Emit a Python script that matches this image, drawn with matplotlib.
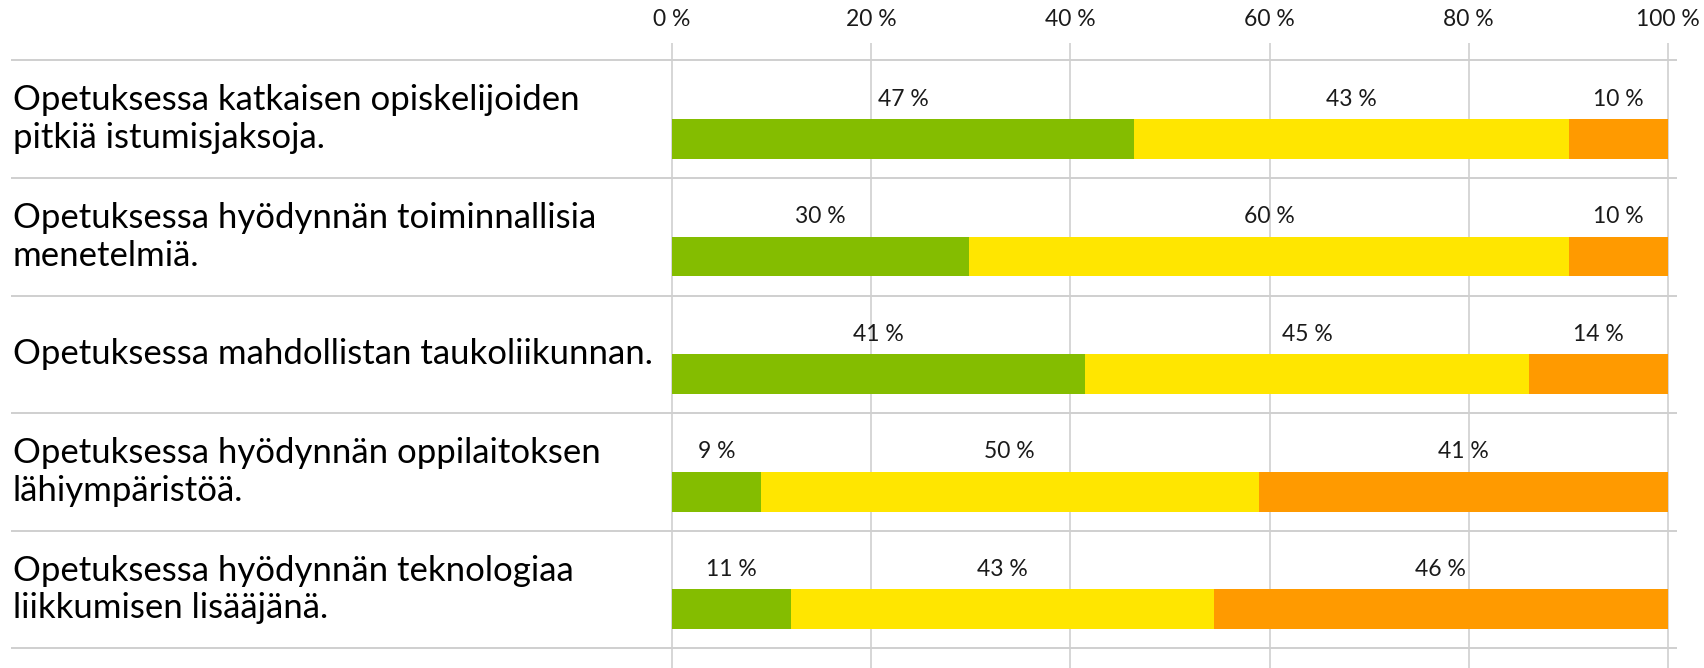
import matplotlib
matplotlib.use("Agg")
import matplotlib.pyplot as plt

# ---- data ----
categories = [
    "Opetuksessa katkaisen opiskelijoiden\npitkiä istumisjaksoja.",
    "Opetuksessa hyödynnän toiminnallisia\nmenetelmiä.",
    "Opetuksessa mahdollistan taukoliikunnan.",
    "Opetuksessa hyödynnän oppilaitoksen\nlähiympäristöä.",
    "Opetuksessa hyödynnän teknologiaa\nliikkumisen lisääjänä.",
]
green_vals = [46.4, 29.8, 41.5, 8.9, 11.9]
yellow_vals = [43.7, 60.3, 44.5, 50.0, 42.5]
orange_vals = [9.9, 9.9, 14.0, 41.1, 45.6]
green_labels = ["47 %", "30 %", "41 %", "9 %", "11 %"]
yellow_labels = ["43 %", "60 %", "45 %", "50 %", "43 %"]
orange_labels = ["10 %", "10 %", "14 %", "41 %", "46 %"]
xticks = [0, 20, 40, 60, 80, 100]
xtick_labels = ["0 %", "20 %", "40 %", "60 %", "80 %", "100 %"]

colors = ["#84BD00", "#FFE600", "#FF9A00"]
FONT = "Lato"

W, H = 1704, 668
fig = plt.figure(figsize=(W / 100, H / 100), dpi=100)
x0, x1 = 672, 1668
y_top, y_bot = 60.3, 648.3
ax = fig.add_axes([x0 / W, 1 - y_bot / H, (x1 - x0) / W, (y_bot - y_top) / H])
n = len(categories)
ax.set_xlim(0, 100)
ax.set_ylim(n, 0)
row_px = (y_bot - y_top) / n

bar_c = 0.668
bar_h = 0.338
lab_y = 0.33

ypos = [i + bar_c for i in range(n)]
left = [0] * n
series = [(green_vals, green_labels), (yellow_vals, yellow_labels), (orange_vals, orange_labels)]
for (vals, labs), col in zip(series, colors):
    ax.barh(ypos, vals, left=left, height=bar_h, color=col, zorder=3, linewidth=0)
    for i in range(n):
        ax.text(left[i] + vals[i] / 2, i + lab_y, labs[i], ha="center", va="center",
                fontsize=16.5, family=FONT, color="#1a1a1a", zorder=4)
    left = [l + v for l, v in zip(left, vals)]

grid_col = "#cfcfcf"
# vertical gridlines
g_top = (43 - y_top) / row_px
g_bot = (H - y_top) / row_px
ax.vlines(xticks, g_top, g_bot, colors=grid_col, linewidth=1.2, clip_on=False, zorder=1)
# horizontal separators
sx0 = (11 - x0) / (x1 - x0) * 100
sx1 = (1677 - x0) / (x1 - x0) * 100
ax.hlines(range(n + 1), sx0, sx1, colors=grid_col, linewidth=1.4, clip_on=False, zorder=1)

# category labels
for i, c in enumerate(categories):
    ax.text(sx0 + 0.2, i + 0.5, c, ha="left", va="center", fontsize=25, family=FONT,
            color="#000000", linespacing=1.22, transform=ax.transData)

ax.xaxis.tick_top()
ax.set_xticks(xticks)
ax.set_xticklabels(xtick_labels, family=FONT, fontsize=16.5, color="#1a1a1a")
ax.tick_params(axis="x", length=0, pad=22)
ax.set_yticks([])
for s in ax.spines.values():
    s.set_visible(False)

fig.savefig("out.png", dpi=100)
